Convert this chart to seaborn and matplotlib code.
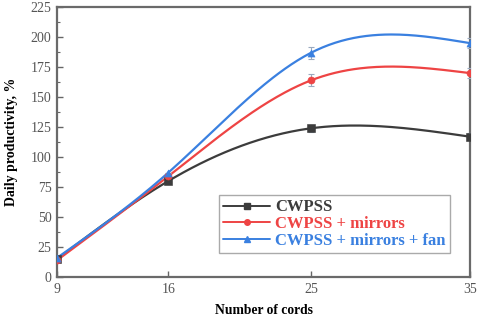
import numpy as np
import pandas as pd
import matplotlib
matplotlib.use("Agg")
import matplotlib.pyplot as plt
import seaborn as sns
from matplotlib.ticker import MultipleLocator

cords = [9, 16, 25, 35]
cwpss = [15, 80, 124, 117]
mirrors = [14, 84, 164, 170]
fan = [16, 87, 187, 195]
err_cwpss = [0, 0, 3, 3]
err_mirrors = [0, 0, 5, 4]
err_fan = [0, 0, 5, 4]
labels = ["CWPSS", "CWPSS + mirrors", "CWPSS + mirrors + fan"]
colors = ["#3c3c3c", "#ee4444", "#3a80e0"]
markers = ["s", "o", "^"]


def natural_spline(x, y, xs):
    x = np.asarray(x, float); y = np.asarray(y, float)
    n = len(x)
    h = np.diff(x)
    A = np.zeros((n, n)); b = np.zeros(n)
    A[0, 0] = 1; A[-1, -1] = 1
    for i in range(1, n - 1):
        A[i, i - 1] = h[i - 1]; A[i, i] = 2 * (h[i - 1] + h[i]); A[i, i + 1] = h[i]
        b[i] = 3 * ((y[i + 1] - y[i]) / h[i] - (y[i] - y[i - 1]) / h[i - 1])
    c = np.linalg.solve(A, b)
    out = np.empty_like(xs)
    for k, xv in enumerate(xs):
        i = min(np.searchsorted(x, xv, side="right") - 1, n - 2)
        i = max(i, 0)
        dx = xv - x[i]
        bi = (y[i + 1] - y[i]) / h[i] - h[i] * (2 * c[i] + c[i + 1]) / 3
        di = (c[i + 1] - c[i]) / (3 * h[i])
        out[k] = y[i] + bi * dx + c[i] * dx ** 2 + di * dx ** 3
    return out


sns.set_theme(style="ticks")
plt.rcParams["font.family"] = ["Liberation Serif", "DejaVu Serif"]

fig = plt.figure(figsize=(4.8, 3.24), dpi=100)
ax = fig.add_axes([0.119, 0.145, 0.860, 0.833])

xs = np.linspace(cords[0], cords[-1], 200)
for lab, ys, err, col, mk in zip(labels, [cwpss, mirrors, fan],
                                 [err_cwpss, err_mirrors, err_fan], colors, markers):
    curve = pd.DataFrame({"x": xs, "y": natural_spline(cords, ys, xs)})
    sns.lineplot(data=curve, x="x", y="y", color=col, lw=1.6, ax=ax, legend=False)
    pts = pd.DataFrame({"x": cords, "y": ys})
    ax.errorbar(cords, ys, yerr=err, fmt="none", ecolor="#9aaac0", elinewidth=0.8,
                capsize=2.5, capthick=0.8, zorder=3)
    sns.scatterplot(data=pts, x="x", y="y", color=col, marker=mk, s=26,
                    edgecolor=col, ax=ax, zorder=4, legend=False)
    ax.plot([], [], color=col, marker=mk, ms=4, lw=1.4, label=lab)

ax.set_xlim(9, 35)
ax.set_ylim(0, 225)
ax.set_xticks(cords)
ax.yaxis.set_major_locator(MultipleLocator(25))
ax.yaxis.set_minor_locator(MultipleLocator(12.5))
ax.tick_params(axis="both", which="both", direction="in", colors="#666666",
               labelcolor="#555555", labelsize=10)
ax.tick_params(axis="both", which="major", length=4, width=1, pad=4)
ax.tick_params(axis="y", which="minor", length=2.5, width=0.8)
for s in ax.spines.values():
    s.set_color("#6a6a6a"); s.set_linewidth(1.6); s.set_visible(True)

ax.set_xlabel("Number of cords", fontsize=9.8, fontweight="bold", labelpad=6, color="black")
ax.set_ylabel("Daily productivity, %", fontsize=10, fontweight="bold", labelpad=9, color="black")

leg = ax.legend(loc="lower right", bbox_to_anchor=(0.951, 0.088), frameon=True,
                fancybox=False, edgecolor="#aaaaaa", framealpha=1,
                prop={"weight": "bold", "size": 12}, handlelength=2.8,
                borderpad=0.25, labelspacing=0.05, handletextpad=0.3,
                borderaxespad=0)
for txt, col in zip(leg.get_texts(), colors):
    txt.set_color(col)

fig.savefig("out.png", dpi=100)
